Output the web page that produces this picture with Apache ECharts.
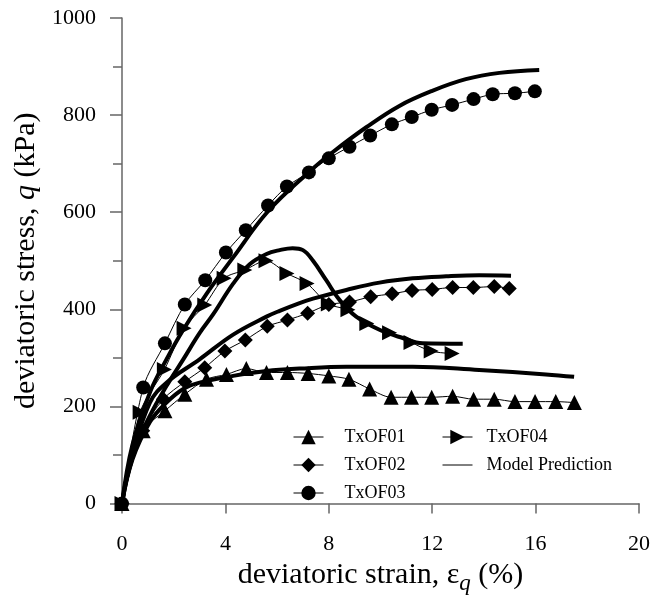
<!DOCTYPE html>
<html>
<head>
<meta charset="utf-8">
<script src="https://cdn.jsdelivr.net/npm/echarts@6/dist/echarts.min.js"></script>
<style>
  html, body { margin: 0; padding: 0; background: #fff; }
  #chart { width: 653px; height: 600px; }
</style>
</head>
<body>
<div id="chart"></div>
<script>
// Measured test data: deviatoric strain (%) and deviatoric stress q (kPa)
const tx01Strain = [0, 0.82, 1.66, 2.43, 3.27, 4.04, 4.81, 5.59, 6.4, 7.2, 8.0, 8.78, 9.58, 10.41, 11.2, 11.98, 12.79, 13.6, 14.4, 15.2, 15.98, 16.78, 17.5];
const tx01Stress = [0, 150, 191, 225, 256, 266, 278, 270, 270, 268, 263, 256, 236, 219, 219, 219, 221, 215, 215, 210, 210, 210, 208];

const tx02Strain = [0, 0.8, 1.6, 2.43, 3.2, 3.98, 4.77, 5.62, 6.4, 7.18, 8.0, 8.8, 9.62, 10.45, 11.22, 12.0, 12.79, 13.59, 14.4, 14.98];
const tx02Stress = [0, 150, 215, 251, 280, 314, 337, 365, 378, 392, 410, 415, 426, 432, 439, 441, 445, 445, 447, 443];

const tx03Strain = [0, 0.82, 1.66, 2.43, 3.22, 4.02, 4.79, 5.65, 6.38, 7.23, 8.0, 8.8, 9.6, 10.44, 11.21, 11.98, 12.77, 13.6, 14.34, 15.2, 15.97];
const tx03Stress = [0, 239, 330, 410, 460, 517, 563, 614, 653, 682, 711, 735, 758, 781, 796, 811, 821, 833, 843, 845, 849];

const tx04Strain = [0, 0.7, 1.64, 2.4, 3.2, 3.95, 4.75, 5.57, 6.38, 7.16, 7.98, 8.74, 9.47, 10.35, 11.18, 11.96, 12.77];
const tx04Stress = [0, 188, 276, 361, 409, 464, 481, 500, 474, 453, 411, 399, 371, 352, 332, 314, 309];

// Model prediction curves
const model01Strain = [0, 0.4, 1.08, 1.72, 2.37, 3.0, 4.3, 5.59, 6.87, 8.68, 11.25, 13.82, 16.4, 17.49];
const model01Stress = [0, 90, 168, 208, 236, 249, 263, 273, 278, 282, 282, 275, 266, 261];

const model02Strain = [0, 0.4, 1.08, 1.72, 3.0, 4.3, 5.59, 6.1, 6.87, 7.39, 8.68, 9.96, 11.25, 12.54, 13.82, 15.05];
const model02Stress = [0, 100, 208, 249, 297, 348, 385, 397, 413, 422, 440, 455, 464, 468, 470, 469];

const model03Strain = [0, 0.4, 1.08, 1.72, 2.37, 3.27, 4.3, 5.65, 7.26, 8.16, 9.45, 10.73, 12.0, 13.3, 14.6, 16.14];
const model03Stress = [0, 120, 229, 297, 358, 432, 507, 602, 684, 724, 775, 819, 850, 874, 887, 893];

const model04Strain = [0, 0.4, 1.08, 1.72, 2.37, 3.0, 3.53, 4.3, 4.94, 5.59, 6.1, 6.6, 7.0, 7.39, 7.9, 8.42, 9.06, 9.96, 10.86, 11.63, 13.18];
const model04Stress = [0, 100, 181, 242, 297, 351, 390, 453, 493, 514, 522, 526, 522, 500, 460, 419, 385, 358, 341, 330, 329];

// Axis ticks
const xTicks = [0, 4, 8, 12, 16, 20];
const yTicks = [0, 200, 400, 600, 800, 1000];

const pairs = (xs, ys) => xs.map((x, i) => [x, ys[i]]);

const FONT = '"Liberation Serif", "Times New Roman", serif';

function testSeries(name, xs, ys, symbol, size, rotate) {
  return {
    name: name,
    type: 'line',
    data: pairs(xs, ys),
    symbol: symbol,
    symbolSize: size,
    symbolRotate: rotate || 0,
    showAllSymbol: true,
    smooth: 0.3,
    lineStyle: { color: '#000', width: 1 },
    itemStyle: { color: '#000' },
    z: 3
  };
}

function modelSeries(xs, ys) {
  return {
    name: 'Model Prediction',
    type: 'line',
    data: pairs(xs, ys),
    symbol: 'circle',
    symbolSize: 0,
    showSymbol: false,
    smooth: 0.4,
    lineStyle: { color: '#000', width: 4 },
    itemStyle: { color: '#000' },
    z: 2
  };
}

const chart = echarts.init(document.getElementById('chart'));

const legendBase = {
  orient: 'vertical',
  top: 423,
  itemWidth: 30,
  itemHeight: 18,
  itemGap: 10,
  lineStyle: { width: 1 },
  textStyle: { fontFamily: FONT, fontSize: 18, color: '#000' }
};

chart.setOption({
  animation: false,
  backgroundColor: '#fff',
  grid: { left: 122, right: 13, top: 18, bottom: 91, containLabel: false },
  legend: [
    Object.assign({}, legendBase, {
      left: 288,
      data: ['TxOF01', 'TxOF02', 'TxOF03'],
      textStyle: Object.assign({}, legendBase.textStyle, { padding: [0, 0, 0, 16] })
    }),
    Object.assign({}, legendBase, {
      left: 437,
      data: ['TxOF04', { name: 'Model Prediction', itemStyle: { opacity: 0 } }],
      textStyle: Object.assign({}, legendBase.textStyle, { padding: [0, 0, 0, 9] })
    })
  ],
  xAxis: {
    type: 'value',
    min: xTicks[0],
    max: xTicks[xTicks.length - 1],
    interval: 4,
    name: '{t|deviatoric strain, ε}{s|q}{t| (%)}',
    nameLocation: 'middle',
    nameGap: 52,
    nameTextStyle: {
      rich: {
        t: { fontFamily: FONT, fontSize: 30, color: '#000' },
        s: { fontFamily: FONT, fontSize: 23, fontStyle: 'italic', color: '#000', verticalAlign: 'bottom', padding: [16, 0, 0, 0] }
      }
    },
    axisLine: { show: true, lineStyle: { color: '#666', width: 1.5 } },
    axisTick: { show: true, inside: false, length: 10, lineStyle: { color: '#666', width: 1.5 } },
    axisLabel: { margin: 30, fontFamily: FONT, fontSize: 22, color: '#000' },
    splitLine: { show: false }
  },
  yAxis: {
    type: 'value',
    min: yTicks[0],
    max: yTicks[yTicks.length - 1],
    interval: 200,
    name: '{t|deviatoric stress, }{i|q}{t| (kPa)}',
    nameLocation: 'middle',
    nameGap: 80,
    nameRotate: 90,
    nameTextStyle: {
      rich: {
        t: { fontFamily: FONT, fontSize: 30, color: '#000' },
        i: { fontFamily: FONT, fontSize: 30, fontStyle: 'italic', color: '#000' }
      }
    },
    axisLine: { show: true, lineStyle: { color: '#666', width: 1.5 } },
    axisTick: { show: true, inside: false, length: 12, lineStyle: { color: '#666', width: 1.5 } },
    minorTick: { show: true, splitNumber: 2, length: 9, lineStyle: { color: '#666', width: 1.5 } },
    axisLabel: { margin: 26, fontFamily: FONT, fontSize: 22, color: '#000', formatter: (v) => String(v) },
    splitLine: { show: false }
  },
  series: [
    modelSeries(model01Strain, model01Stress),
    modelSeries(model02Strain, model02Stress),
    modelSeries(model03Strain, model03Stress),
    modelSeries(model04Strain, model04Stress),
    testSeries('TxOF01', tx01Strain, tx01Stress, 'triangle', 15),
    testSeries('TxOF02', tx02Strain, tx02Stress, 'diamond', 15),
    testSeries('TxOF03', tx03Strain, tx03Stress, 'circle', 14),
    testSeries('TxOF04', tx04Strain, tx04Stress, 'triangle', 15, -90)
  ]
});
</script>
</body>
</html>
